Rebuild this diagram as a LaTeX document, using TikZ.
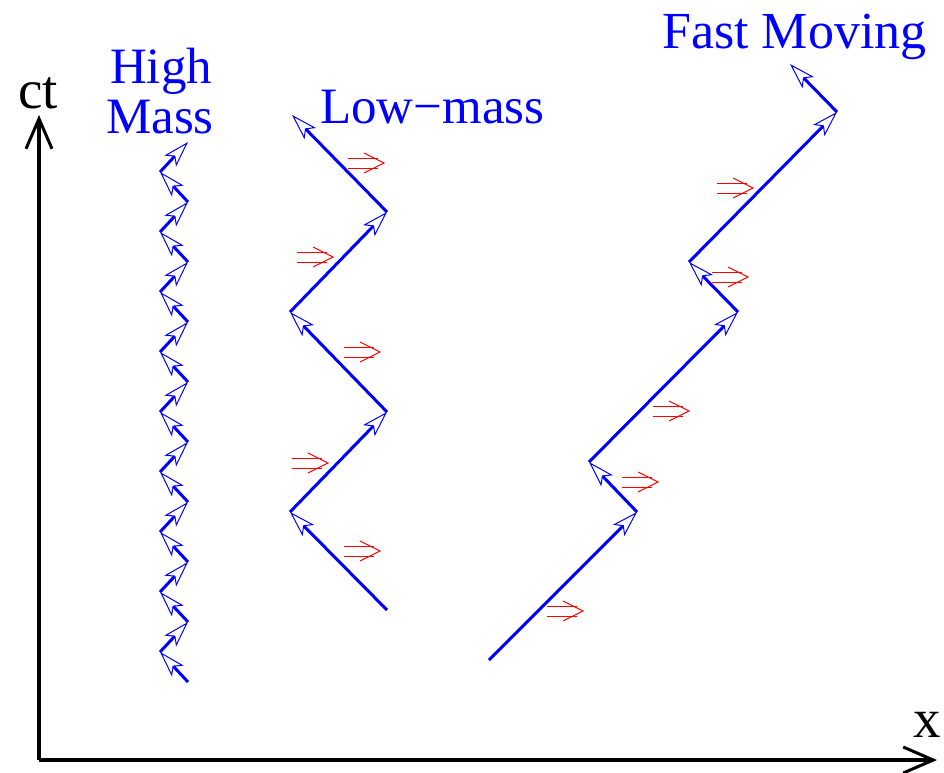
\documentclass[tikz,border=0pt]{standalone}
\usepackage{fontspec}
\setmainfont{Liberation Serif}
\usetikzlibrary{arrows.meta}
\begin{document}
\begin{tikzpicture}[x=1pt, y=-1pt]
  \tikzstyle{axis} = [line width=4pt, -{Straight Barb[length=30pt, width=26pt, line width=3pt]}]
  \tikzstyle{world} = [blue, line width=3pt, -{Stealth[open, length=26pt, width=16pt, inset=6pt, line width=1pt]}]
  \tikzstyle{push} = [red, line width=1pt]
  \tikzstyle{lbl} = [font=\fontsize{51}{56}\selectfont, inner sep=0pt]
  \tikzstyle{axlbl} = [font=\fontsize{55}{60}\selectfont, inner sep=0pt]
  \useasboundingbox (0,0) rectangle (944,772);
  % axes
  \coordinate (o) at (39,760);
  \coordinate (ttop) at (39,115);
  \coordinate (xend) at (937,760);
  \draw [axis] (o) -- (ttop);
  \draw [axis] (o) -- (xend);
  \node [axlbl, anchor=base] (ct) at (38,108) {ct};
  \node [axlbl, anchor=base] (xl) at (927,737) {x};
  % high mass
  \foreach \i in {0,...,18} {
    \pgfmathsetmacro\hx{188-28*mod(\i,2)}
    \coordinate (h\i) at (\hx,682-30*\i);
  }
  \foreach \i [evaluate=\i as \j using int(\i+1)] in {0,...,17}
    \draw [world] (h\i) -- (h\j);
  % low mass
  \coordinate (l0) at (387,610); \coordinate (l1) at (290,512);
  \coordinate (l2) at (387,412); \coordinate (l3) at (290,312);
  \coordinate (l4) at (387,212); \coordinate (l5) at (292,115);
  \foreach \i [evaluate=\i as \j using int(\i+1)] in {0,...,4}
    \draw [world] (l\i) -- (l\j);
  % fast moving
  \coordinate (f0) at (489,660); \coordinate (f1) at (637,512);
  \coordinate (f2) at (589,462); \coordinate (f3) at (738,312);
  \coordinate (f4) at (689,262); \coordinate (f5) at (837,112);
  \coordinate (f6) at (790,64);
  \foreach \i [evaluate=\i as \j using int(\i+1)] in {0,...,5}
    \draw [world] (f\i) -- (f\j);
  % pushes
  \foreach \tx/\ty in {384/163, 333/257, 380/352, 328/463, 380/551,
                       583/611, 658/482, 689/411, 753/188, 748/277} {
    \draw [push] (\tx-36,\ty-5) -- (\tx-6,\ty-5);
    \draw [push] (\tx-36,\ty+5) -- (\tx-6,\ty+5);
    \draw [push] (\tx-20,\ty-10) -- (\tx,\ty) -- (\tx-20,\ty+10);
  }
  % labels
  \node [lbl, blue, anchor=base] (high) at (161,83) {High};
  \node [lbl, blue, anchor=base] (mass) at (160,133) {Mass};
  \node [lbl, blue, anchor=base west] (low) at (320,123) {Low−mass};
  \node [lbl, blue, anchor=base west, font=\fontsize{52}{56}\selectfont] (fast) at (662,48) {Fast Moving};
\end{tikzpicture}
\end{document}
